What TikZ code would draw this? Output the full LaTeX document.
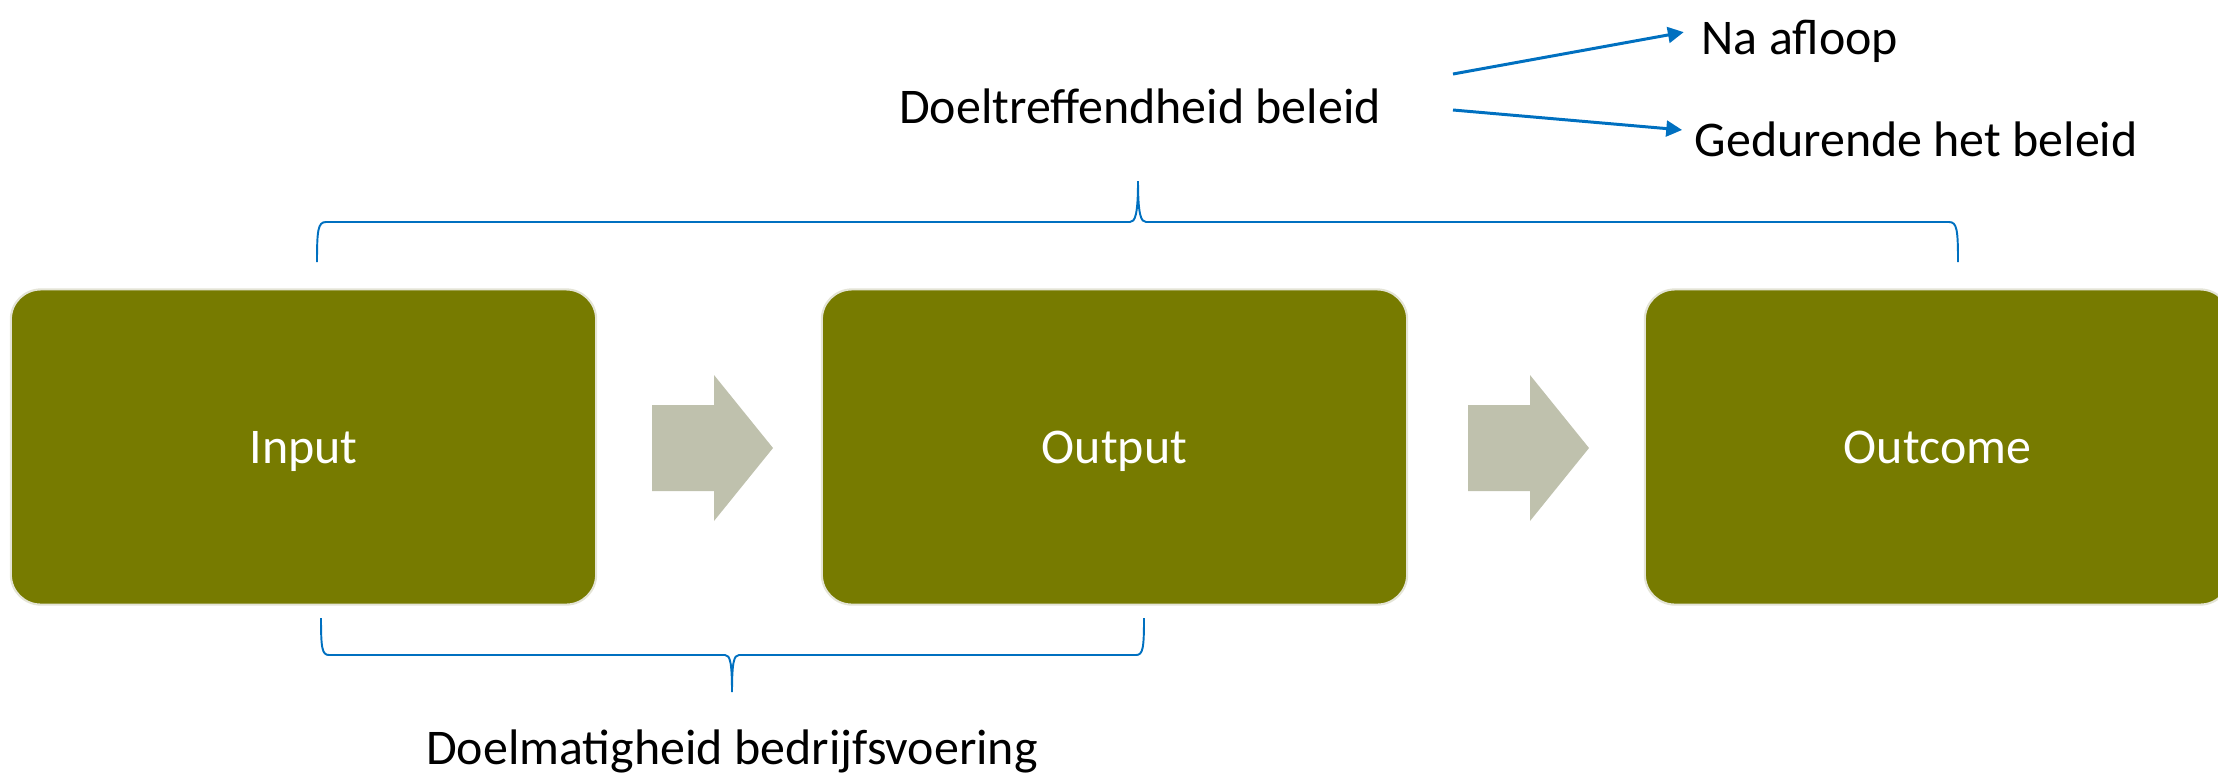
\documentclass[tikz,border=0pt]{standalone}
\usepackage{fontspec}
\setmainfont{Carlito}
\usetikzlibrary{arrows.meta}
\definecolor{olijf}{HTML}{777B00}
\definecolor{grijs}{HTML}{BFC1AD}
\definecolor{lijnblauw}{HTML}{0070C0}
\definecolor{rand}{HTML}{E4E4D6}
\tikzset{
  blok/.style={draw=rand, line width=0.6pt, fill=olijf, rounded corners=0.3cm,
    minimum width=5.85cm, minimum height=3.15cm, text=white, text depth=0pt,
    font=\fontsize{14.2}{17}\selectfont},
  tekst/.style={inner sep=0pt, text height=0.5cm, text depth=0pt,
    font=\fontsize{14.2}{17}\selectfont},
  pijl/.style={draw=lijnblauw, line width=0.85pt, -{Triangle[length=4.5pt,width=4.5pt]}},
  accolade/.style={draw=lijnblauw, line width=0.55pt},
  blokpijl/.style={fill=grijs}
}
\begin{document}
\begin{tikzpicture}[x=0.01cm,y=-0.01cm]
  \useasboundingbox (0,0) rectangle (2218,772);
  % blokken
  \node[blok] (input) at (303.5,447) {Input};
  \node[blok] (output) at (1114.5,447) {Output};
  \node[blok] (outcome) at (1937.5,447) {Outcome};
  % pijlen tussen de blokken
  \foreach \x in {652,1468}
    \fill[blokpijl] (\x,405) -- ++(62,0) -- ++(0,-30) -- ++(59,73) -- ++(-59,73)
      -- ++(0,-30) -- ++(-62,0) -- cycle;
  % accolades
  \draw[accolade] (317,262) .. controls (317,230) and (318,222) .. (326,222) -- (1130,222)
    .. controls (1135,222) and (1138,215) .. (1138,181)
    .. controls (1138,215) and (1141,222) .. (1146,222) -- (1949,222)
    .. controls (1957,222) and (1958,230) .. (1958,262);
  \draw[accolade] (321,618) .. controls (321,648) and (322,655) .. (329,655) -- (725,655)
    .. controls (730,655) and (732,662) .. (732,692)
    .. controls (732,662) and (734,655) .. (739,655) -- (1136,655)
    .. controls (1143,655) and (1144,648) .. (1144,618);
  % teksten
  \node[tekst, anchor=base] (doeltreffend) at (1140,123) {Doeltreffendheid beleid};
  \node[tekst, anchor=base west] (na) at (1701,54) {Na afloop};
  \node[tekst, anchor=base west] (gedurende) at (1694,156) {Gedurende het beleid};
  \node[tekst, anchor=base] (doelmatig) at (732,764) {Doelmatigheid bedrijfsvoering};
  \coordinate (van1) at (1453,74);
  \coordinate (van2) at (1453,110);
  \draw[pijl, shorten >=5pt] (van1) -- (na.west);
  \draw[pijl, shorten >=3.4pt] (van2) -- (gedurende.west);
\end{tikzpicture}
\end{document}
